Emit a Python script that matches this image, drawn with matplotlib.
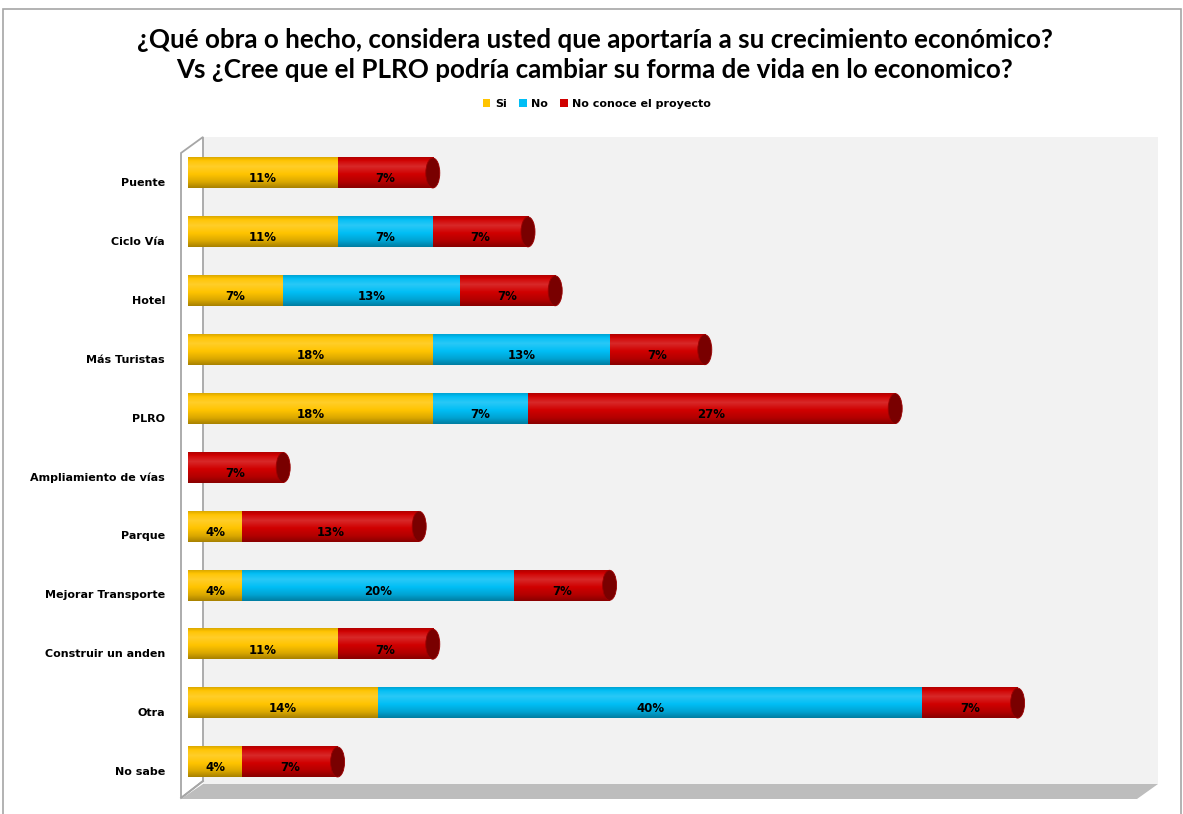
import numpy as np
import matplotlib
matplotlib.use("Agg")
import matplotlib.pyplot as plt
from matplotlib.patches import Polygon, Rectangle, Ellipse
from matplotlib.colors import to_rgb
from matplotlib.transforms import ScaledTranslation

# ---------------- data ----------------
categories = ["Puente", "Ciclo Vía", "Hotel", "Más Turistas", "PLRO",
              "Ampliamiento de vías", "Parque", "Mejorar Transporte",
              "Construir un anden", "Otra", "No sabe"]
si = [11, 11, 7, 18, 18, 0, 4, 4, 11, 14, 4]
no = [0, 7, 13, 13, 7, 0, 0, 20, 0, 40, 0]
no_conoce = [7, 7, 7, 7, 27, 7, 13, 7, 7, 7, 7]
series_names = ["Si", "No", "No conoce el proyecto"]
series_colors = ["#FFC400", "#00BEF5", "#D00000"]
title_line1 = "¿Qué obra o hecho, considera usted que aportaría a su crecimiento económico?"
title_line2 = "Vs ¿Cree que el PLRO podría cambiar su forma de vida en lo economico?"

# ---------------- figure ----------------
W, H = 1183, 814
fig = plt.figure(figsize=(W / 100, H / 100), dpi=100)
fig.patch.set_facecolor("white")

def fx(px):
    return px / W

def fy(py):
    return 1 - py / H

# background / 3D frame decoration (pixel coordinates)
bg = fig.add_axes([0, 0, 1, 1], zorder=-1)
bg.set_xlim(0, W)
bg.set_ylim(H, 0)
bg.axis("off")
bg.add_patch(Rectangle((3, 9), 1178, 830, facecolor="white", edgecolor="#A6A6A6", lw=1.2))
bg.add_patch(Rectangle((203, 137), 955, 647, facecolor="#F2F2F2", edgecolor="none"))
bg.add_patch(Polygon([(181, 153), (203, 137), (203, 781), (181, 798)], closed=True,
                     facecolor="white", edgecolor="#A6A6A6", lw=1.3))
bg.add_patch(Polygon([(203, 784), (1158, 784), (1137, 799), (181, 799)], closed=True,
                     facecolor="#BDBDBD", edgecolor="none"))
bg.plot([203, 181], [781, 798], color="#A6A6A6", lw=1.3)

# main axes
x0_px, x1_px = 188, 1158
px_per_pct = 13.6
ax = fig.add_axes([fx(x0_px), fy(783), fx(x1_px) - fx(x0_px), fy(137) - fy(783)])
ax.patch.set_visible(False)
for s in ax.spines.values():
    s.set_visible(False)

y = np.arange(len(categories))
bar_h = 0.52
xmax = (x1_px - x0_px) / px_per_pct

# shading profile (top -> bottom) for cylinder effect
t_pts = [0.0, 0.12, 0.3, 0.55, 0.8, 1.0]
f_pts = [0.86, 1.02, 1.10, 1.0, 0.86, 0.66]
tt = np.linspace(0, 1, 64)
ff = np.interp(tt, t_pts, f_pts)

def shade(c, f):
    c = np.array(to_rgb(c))
    if f <= 1:
        return c * f
    return c + (1 - c) * (f - 1) * 1.6

left = np.zeros(len(categories))
containers = []
all_series = [si, no, no_conoce]
for name, vals, col in zip(series_names, all_series, series_colors):
    vals = np.array(vals, dtype=float)
    bc = ax.barh(y, vals, left=left, height=bar_h, color=col, label=name,
                 zorder=2, edgecolor="none")
    containers.append(bc)
    img = np.array([shade(col, f) for f in ff]).reshape(-1, 1, 3)
    for p, v in zip(bc.patches, vals):
        if v <= 0:
            continue
        px, py, pw, ph = p.get_x(), p.get_y(), p.get_width(), p.get_height()
        ax.imshow(img, extent=(px, px + pw, py + ph, py), aspect="auto",
                  interpolation="bilinear", zorder=3)
        ax.text(px + pw / 2, py + ph / 2 + 0.1, f"{v:.0f}%", ha="center", va="center",
                fontsize=8.5, fontweight="bold", color="black", zorder=6)
    left = left + vals

# end caps on last segment of each bar
cap_w = 14 / px_per_pct
for i, end in enumerate(left):
    for vals, col in zip(all_series[::-1], series_colors[::-1]):
        if vals[i] > 0:
            break
    ax.add_patch(Ellipse((end, y[i]), cap_w, bar_h * 0.98,
                         facecolor=shade(col, 0.58), edgecolor=shade(col, 0.75),
                         lw=0.6, zorder=4))

ax.set_xlim(0, xmax)
ax.set_ylim(len(categories) - 1 + 0.357, -0.611)
ax.set_xticks([])
ax.set_yticks(y)
ax.set_yticklabels(categories, fontsize=8, fontweight="bold")
ax.tick_params(axis="y", length=0, pad=16.5)
offset = ScaledTranslation(0, -0.09, fig.dpi_scale_trans)
for lab in ax.get_yticklabels():
    lab.set_transform(lab.get_transform() + offset)

# title
title_font = ["Lato", "DejaVu Sans"]
fig.text(fx(595), fy(40), title_line1, ha="center", va="center",
         fontsize=18.7, fontweight="bold", family=title_font)
fig.text(fx(595), fy(70), title_line2, ha="center", va="center",
         fontsize=18.7, fontweight="bold", family=title_font)

# legend
fig.legend(handles=containers, labels=series_names, loc="center",
           bbox_to_anchor=(fx(597), fy(104)), ncol=3, frameon=False,
           prop={"size": 8, "weight": "bold"}, handlelength=0.7,
           handleheight=0.7, handletextpad=0.4, columnspacing=1.1)

fig.savefig("out.png", dpi=100)
